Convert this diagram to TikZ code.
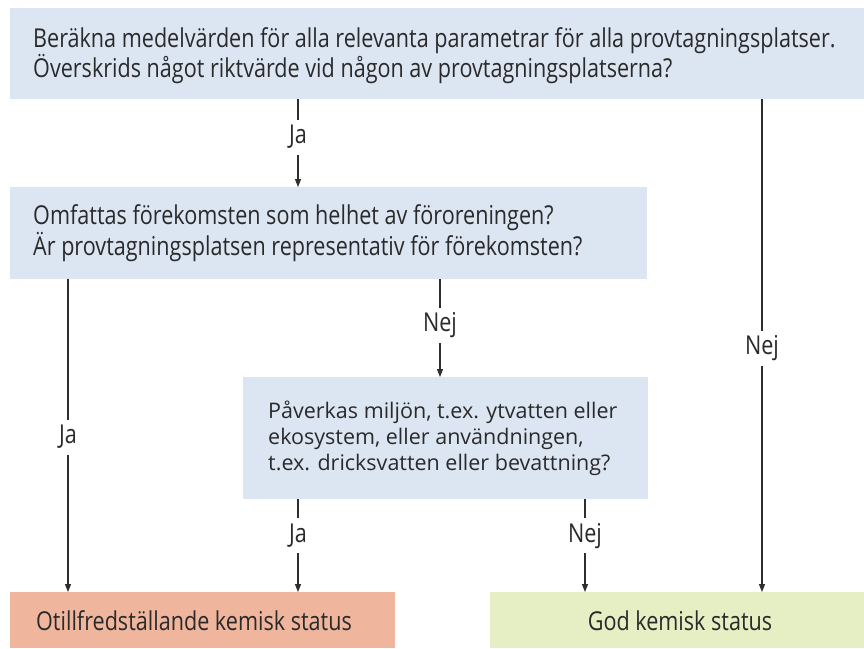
\documentclass[tikz,border=0pt]{standalone}
\usepackage{fontspec}
\setmainfont{Open Sans}
\newfontfamily\condfont[FakeStretch=0.83]{Open Sans}
\usetikzlibrary{arrows.meta}
\definecolor{boxblue}{HTML}{DCE6F3}
\definecolor{boxred}{HTML}{F0B69D}
\definecolor{boxgreen}{HTML}{E6EFC4}
\definecolor{txt}{HTML}{2A2A2A}
\definecolor{ln}{HTML}{2E2E2E}
\begin{document}
\begin{tikzpicture}[x=1pt,y=-1pt,
  box/.style={anchor=north west, inner sep=0pt, draw=none},
  qtext/.style={anchor=west, inner sep=0pt, align=left, text=txt, font=\condfont\fontsize{26}{30.5}\selectfont},
  ptext/.style={anchor=west, inner sep=0pt, align=left, text=txt, font=\fontsize{21.5}{26}\selectfont},
  arr/.style={draw=ln, line width=1.1pt, -{Triangle[length=8pt,width=6pt]}},
  lab/.style={fill=white, text=txt, inner xsep=2pt, inner ysep=6pt, text height=18pt, text depth=5pt, font=\condfont\fontsize{26}{30}\selectfont},
  otext/.style={text=txt, inner sep=0pt, font=\condfont\fontsize{26}{30}\selectfont}]
\useasboundingbox (0,0) rectangle (864,648);
\fill[white] (0,0) rectangle (864,648);
% boxes
\node[box, fill=boxblue, minimum width=854pt, minimum height=91pt] (b1) at (10,8) {};
\node[qtext] (t1) at ([xshift=23pt,yshift=-2pt]b1.west) {Beräkna medelvärden för alla relevanta parametrar för alla provtagningsplatser.\\Överskrids något riktvärde vid någon av provtagningsplatserna?};
\node[box, fill=boxblue, minimum width=637pt, minimum height=92pt] (b2) at (10,187) {};
\node[qtext] (t2) at ([xshift=23pt]b2.west) {Omfattas förekomsten som helhet av föroreningen?\\Är provtagningsplatsen representativ för förekomsten?};
\node[box, fill=boxblue, minimum width=405pt, minimum height=122pt] (b3) at (243,377) {};
\node[ptext] (t3) at ([xshift=25pt]b3.west) {Påverkas miljön, t.ex. ytvatten eller\\ekosystem, eller användningen,\\t.ex. dricksvatten eller bevattning?};
\node[box, fill=boxred, minimum width=385pt, minimum height=56pt] (r) at (10,592) {};
\node[otext] (rt) at (194,621) {Otillfredställande kemisk status};
\node[box, fill=boxgreen, minimum width=374pt, minimum height=56pt] (g) at (490,592) {};
\node[otext] (gt) at (680,621) {God kemisk status};
% columns
\coordinate (x68) at (68,0);
\coordinate (x298) at (298,0);
\coordinate (x440) at (440,0);
\coordinate (x585) at (585,0);
\coordinate (x762) at (762,0);
% connectors
\draw[arr] (b1.south -| x298) -- node[lab, pos=0.43] {Ja} (b2.north -| x298);
\draw[arr] (b1.south -| x762) -- node[lab, pos=0.505] {Nej} (g.north -| x762);
\draw[arr] (b2.south -| x68) -- node[lab, pos=0.505] {Ja} (r.north -| x68);
\draw[arr] (b2.south -| x440) -- node[lab, pos=0.47] {Nej} (b3.north -| x440);
\draw[arr] (b3.south -| x298) -- node[lab, pos=0.39] {Ja} (r.north -| x298);
\draw[arr] (b3.south -| x585) -- node[lab, pos=0.39] {Nej} (g.north -| x585);
\end{tikzpicture}
\end{document}
